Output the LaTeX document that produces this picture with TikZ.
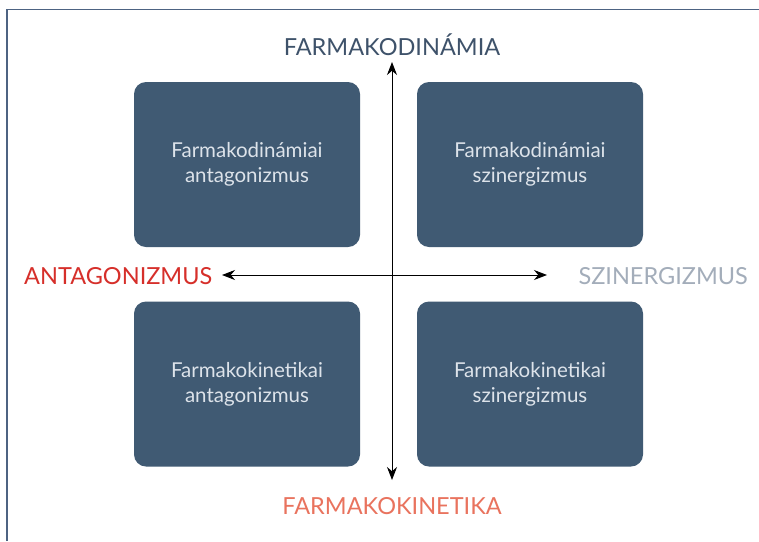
\documentclass[tikz,border=0pt]{standalone}
\usepackage{fontspec}
\setmainfont{Lato}
\usetikzlibrary{arrows.meta}
\definecolor{frameC}{HTML}{4D6382}
\definecolor{boxC}{HTML}{405A73}
\definecolor{boxT}{HTML}{DDE3EA}
\definecolor{topC}{HTML}{3E526A}
\definecolor{antC}{HTML}{D62F2A}
\definecolor{szinC}{HTML}{A3ADBA}
\definecolor{kinC}{HTML}{E9735E}
\tikzset{
  quad/.style={draw=none, fill=boxC, rounded corners=12pt, minimum width=226pt, minimum height=165pt,
    text=boxT, align=center, font=\fontsize{20.5}{25}\selectfont, inner sep=0pt},
  axislabel/.style={font=\fontsize{23.5}{26}\selectfont, inner sep=0pt},
  axis/.style={line width=1pt, black, {Stealth[length=13pt,width=10pt]}-{Stealth[length=13pt,width=10pt]}}
}
\begin{document}
\begin{tikzpicture}[x=1pt,y=-1pt]
\useasboundingbox (0,0) rectangle (759,541);
\fill[white] (0,0) rectangle (759,541);
\draw[frameC, line width=1.5pt] (7,541) -- (7,9.5) -- (759,9.5);
\node[quad] (kda) at (247,164.5) {Farmakodinámiai\\antagonizmus};
\node[quad] (kds) at (530,164.5) {Farmakodinámiai\\szinergizmus};
\node[quad] (kka) at (247,384) {Farmakokinetikai\\antagonizmus};
\node[quad] (kks) at (530,384) {Farmakokinetikai\\szinergizmus};
\node[axislabel, text=topC] (fd) at (392,45) {FARMAKODINÁMIA};
\node[axislabel, text=kinC] (fk) at (392,506) {FARMAKOKINETIKA};
\node[axislabel, text=antC, anchor=west] (ant) at (24,276) {ANTAGONIZMUS};
\node[axislabel, text=szinC, anchor=east] (szin) at (748,276) {SZINERGIZMUS};
\coordinate (vt) at (392,62);
\coordinate (vb) at (392,480);
\coordinate (hl) at (222,275);
\coordinate (hr) at (547,275);
\draw[axis] (vb) -- (vt);
\draw[axis] (hl) -- (hr);
\end{tikzpicture}
\end{document}
